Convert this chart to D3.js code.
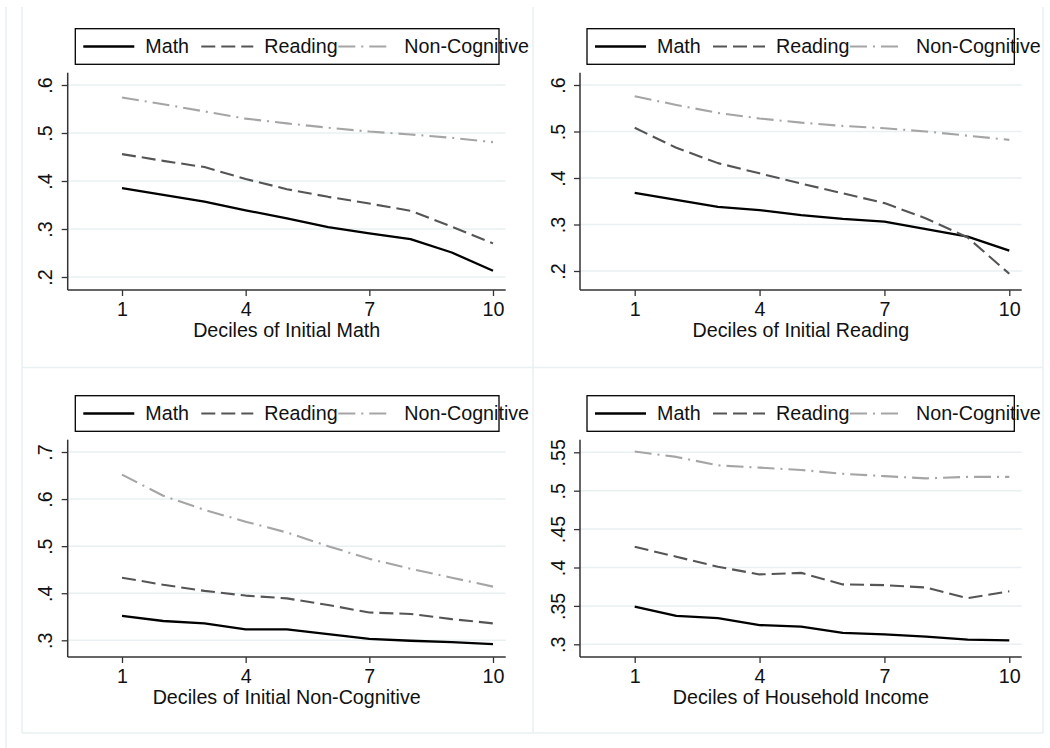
<!DOCTYPE html>
<html>
<head>
<meta charset="utf-8">
<script src="https://cdn.jsdelivr.net/npm/d3@7"></script>
<style>
  body { margin: 0; background: #fff; }
  svg { display: block; font-family: "Liberation Sans", Arial, sans-serif; }
</style>
</head>
<body>
<div class="canvas"></div>
<script>
// deciles on every x axis
const deciles = [1, 2, 3, 4, 5, 6, 7, 8, 9, 10];
const xTicks = [1, 4, 7, 10];
const seriesNames = ["Math", "Reading", "Non-Cognitive"];

const xTitles = [
  "Deciles of Initial Math",
  "Deciles of Initial Reading",
  "Deciles of Initial Non-Cognitive",
  "Deciles of Household Income",
];

// panel 1: by initial math
const mathByMath = [0.385, 0.371, 0.357, 0.339, 0.322, 0.304, 0.291, 0.279, 0.251, 0.213];
const readByMath = [0.456, 0.442, 0.429, 0.404, 0.383, 0.367, 0.353, 0.338, 0.305, 0.27];
const nonCogByMath = [0.574, 0.56, 0.545, 0.53, 0.52, 0.511, 0.503, 0.497, 0.49, 0.481];

// panel 2: by initial reading
const mathByRead = [0.368, 0.353, 0.338, 0.331, 0.32, 0.312, 0.306, 0.29, 0.274, 0.244];
const readByRead = [0.508, 0.465, 0.432, 0.41, 0.388, 0.367, 0.346, 0.313, 0.272, 0.194];
const nonCogByRead = [0.576, 0.557, 0.54, 0.528, 0.519, 0.512, 0.507, 0.5, 0.491, 0.482];

// panel 3: by initial non-cognitive
const mathByNonCog = [0.352, 0.341, 0.336, 0.323, 0.323, 0.313, 0.303, 0.299, 0.296, 0.292];
const readByNonCog = [0.433, 0.418, 0.405, 0.395, 0.389, 0.375, 0.359, 0.356, 0.345, 0.336];
const nonCogByNonCog = [0.652, 0.607, 0.577, 0.552, 0.529, 0.5, 0.473, 0.452, 0.433, 0.414];

// panel 4: by household income
const mathByIncome = [0.349, 0.337, 0.334, 0.325, 0.323, 0.315, 0.313, 0.31, 0.306, 0.305];
const readByIncome = [0.427, 0.414, 0.401, 0.391, 0.393, 0.378, 0.377, 0.374, 0.36, 0.369];
const nonCogByIncome = [0.551, 0.544, 0.533, 0.53, 0.527, 0.522, 0.519, 0.516, 0.518, 0.518];

const yTicks1 = [0.2, 0.3, 0.4, 0.5, 0.6];
const yTicks2 = [0.2, 0.3, 0.4, 0.5, 0.6];
const yTicks3 = [0.3, 0.4, 0.5, 0.6, 0.7];
const yTicks4 = [0.3, 0.35, 0.4, 0.45, 0.5, 0.55];

const panels = [
  { title: xTitles[0], series: [mathByMath, readByMath, nonCogByMath], ticks: yTicks1,
    col: 0, row: 0, yPx: [277, 85] },
  { title: xTitles[1], series: [mathByRead, readByRead, nonCogByRead], ticks: yTicks2,
    col: 1, row: 0, yPx: [271, 85] },
  { title: xTitles[2], series: [mathByNonCog, readByNonCog, nonCogByNonCog], ticks: yTicks3,
    col: 0, row: 1, yPx: [640.3, 452] },
  { title: xTitles[3], series: [mathByIncome, readByIncome, nonCogByIncome], ticks: yTicks4,
    col: 1, row: 1, yPx: [644.3, 452.3] },
];

const width = 1050;
const height = 748;
const cols = [
  { axisX: 67.7, x1: 122, x10: 493, right: 505.7, legX: 75.3, legW: 423.7 },
  { axisX: 580, x1: 634.7, x10: 1009.3, right: 1021.7, legX: 587, legW: 427.3 },
];
const rowOffset = [0, 367];
const axisTop = 72.7;
const axisBottom = 290;
const legY = 28.7;
const legH = 35.6;

const styles = [
  { color: "#000000", width: 2.3, dash: null },
  { color: "#555555", width: 2.1, dash: "14,6" },
  { color: "#a5a5a5", width: 2.1, dash: "17,6,2,6" },
];
const frameColor = "#e8f0f2";
const fontSize = 19.7;

const svg = d3
  .select(".canvas")
  .append("svg")
  .attr("width", width)
  .attr("height", height);

// faint outer frame of the combined graph
const frame = svg.append("g").attr("stroke", frameColor).attr("stroke-width", 1.5);
frame.append("line").attr("x1", 6).attr("x2", 6).attr("y1", 7).attr("y2", height);
[22, 533, 1043].forEach((x) =>
  frame.append("line").attr("x1", x).attr("x2", x).attr("y1", 7).attr("y2", 733)
);
[367.5, 733].forEach((y) =>
  frame.append("line").attr("x1", 22).attr("x2", 1043).attr("y1", y).attr("y2", y)
);

panels.forEach((p) => {
  const c = cols[p.col];
  const dy = rowOffset[p.row];
  const g = svg.append("g");

  const x = d3.scaleLinear().domain([1, 10]).range([c.x1, c.x10]);
  const y = d3
    .scaleLinear()
    .domain([p.ticks[0], p.ticks[p.ticks.length - 1]])
    .range(p.yPx);

  // gridlines
  g.append("g")
    .selectAll("line")
    .data(p.ticks)
    .enter()
    .append("line")
    .attr("x1", c.axisX)
    .attr("x2", c.right)
    .attr("y1", (d) => y(d))
    .attr("y2", (d) => y(d))
    .attr("stroke", frameColor)
    .attr("stroke-width", 1.5);

  // series lines
  p.series.forEach((vals, i) => {
    const s = styles[i];
    g.append("path")
      .datum(vals)
      .attr("fill", "none")
      .attr("stroke", s.color)
      .attr("stroke-width", s.width)
      .attr("stroke-dasharray", s.dash)
      .attr("stroke-linejoin", "round")
      .attr(
        "d",
        d3
          .line()
          .x((d, j) => x(deciles[j]))
          .y((d) => y(d))
      );
  });

  // y axis
  const yAxis = g
    .append("g")
    .attr("transform", `translate(${c.axisX},0)`)
    .call(
      d3
        .axisLeft(y)
        .tickValues(p.ticks)
        .tickSize(6)
        .tickSizeOuter(0)
        .tickFormat((d) => d3.format(".2~f")(d).replace(/^0/, ""))
    );
  yAxis.select(".domain").remove();
  yAxis.selectAll(".tick line").attr("stroke", "#333").attr("stroke-width", 1.3);
  yAxis
    .selectAll(".tick text")
    .attr("transform", "rotate(-90)")
    .attr("x", 0)
    .attr("y", -15.5)
    .attr("dy", 0)
    .attr("text-anchor", "middle")
    .attr("font-size", fontSize)
    .attr("font-family", "Liberation Sans, Arial, sans-serif")
    .attr("fill", "#111");
  yAxis
    .append("line")
    .attr("x1", 0)
    .attr("x2", 0)
    .attr("y1", axisTop + dy)
    .attr("y2", axisBottom + dy)
    .attr("stroke", "#333")
    .attr("stroke-width", 1.5);

  // x axis
  const xAxis = g
    .append("g")
    .attr("transform", `translate(0,${axisBottom + dy})`)
    .call(d3.axisBottom(x).tickValues(xTicks).tickSize(6).tickSizeOuter(0));
  xAxis.select(".domain").remove();
  xAxis.selectAll(".tick line").attr("stroke", "#333").attr("stroke-width", 1.3);
  xAxis
    .selectAll(".tick text")
    .attr("y", 25.5)
    .attr("dy", 0)
    .attr("font-size", fontSize)
    .attr("font-family", "Liberation Sans, Arial, sans-serif")
    .attr("fill", "#111");
  xAxis
    .append("line")
    .attr("x1", c.axisX)
    .attr("x2", c.right)
    .attr("stroke", "#333")
    .attr("stroke-width", 1.5);

  // axis title, centred on the axis line
  g.append("text")
    .attr("x", (c.axisX + c.right) / 2)
    .attr("y", 337 + dy)
    .attr("text-anchor", "middle")
    .attr("font-size", fontSize)
    .attr("fill", "#111")
    .text(p.title);

  // legend
  const leg = g.append("g").attr("transform", `translate(${c.legX},${legY + dy})`);
  leg
    .append("rect")
    .attr("width", c.legW)
    .attr("height", legH)
    .attr("fill", "none")
    .attr("stroke", "#000")
    .attr("stroke-width", 1.3);
  const keyOffsets = [
    { line: [8, 59], text: 70 },
    { line: [126, 178], text: 189 },
    { line: [263, 313], text: 329 },
  ];
  seriesNames.forEach((name, i) => {
    const s = styles[i];
    const k = keyOffsets[i];
    leg
      .append("line")
      .attr("x1", k.line[0])
      .attr("x2", k.line[1])
      .attr("y1", legH / 2)
      .attr("y2", legH / 2)
      .attr("stroke", s.color)
      .attr("stroke-width", s.width)
      .attr("stroke-dasharray", s.dash);
    leg
      .append("text")
      .attr("x", k.text)
      .attr("y", legH / 2 + 7)
      .attr("font-size", fontSize)
      .attr("fill", "#111")
      .text(name);
  });
});
</script>
</body>
</html>
